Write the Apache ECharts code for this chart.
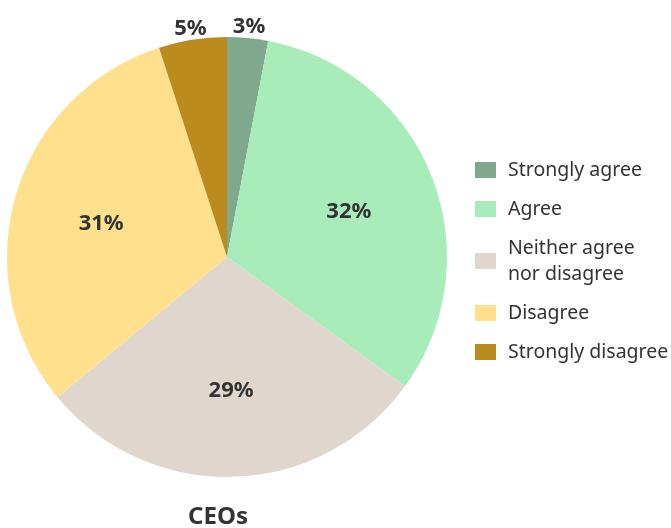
<!DOCTYPE html>
<html>
<head>
<meta charset="utf-8">
<script src="https://cdn.jsdelivr.net/npm/echarts@6/dist/echarts.min.js"></script>
<style>
  html, body { margin: 0; padding: 0; background: #fff; }
  #chart { width: 671px; height: 528px; }
</style>
</head>
<body>
<div id="chart"></div>
<script>
// 数据
const categories = ['Strongly agree', 'Agree', 'Neither agree\nnor disagree', 'Disagree', 'Strongly disagree'];
const values = [3, 32, 29, 31, 5];
const colors = ['#7fa88c', '#a8edb9', '#dfd6ce', '#fee08d', '#bb8b1e'];
const chartTitle = 'CEOs';

const FONT = 'Noto Sans';
const center = [227, 257];

let myChart = echarts.init(document.getElementById('chart'));

// 主饼图
const mainData = categories.map((c, i) => ({
  name: c,
  value: values[i],
  itemStyle: { color: colors[i] }
}));

// 标签层（透明），大扇区标签在内部，小扇区标签在外部
const innerLabelData = categories.map((c, i) => ({
  name: c,
  value: values[i],
  label: { show: values[i] >= 10 }
}));
const outerLabelData = categories.map((c, i) => ({
  name: c,
  value: values[i],
  label: { show: values[i] < 10 }
}));

const labelStyle = {
  position: 'inside',
  formatter: '{c}%',
  color: '#333',
  fontFamily: FONT,
  fontWeight: 'bold',
  fontSize: 22,
  offset: [0, 3]
};

const option = {
  animation: false,
  title: {
    text: chartTitle,
    left: 218,
    top: 505,
    padding: 0,
    textAlign: 'center',
    textStyle: { fontFamily: FONT, fontWeight: 'bold', fontSize: 24, color: '#333' }
  },
  legend: {
    orient: 'vertical',
    left: 475,
    top: 157,
    padding: 0,
    itemWidth: 21,
    itemHeight: 16,
    itemGap: 13,
    icon: 'rect',
    selectedMode: false,
    data: categories,
    textStyle: {
      fontFamily: FONT,
      fontSize: 19.5,
      lineHeight: 26,
      color: '#333',
      padding: [0, 0, 0, 7]
    }
  },
  series: [
    {
      type: 'pie',
      center: center,
      radius: [0, 220],
      startAngle: 90,
      clockwise: true,
      silent: true,
      label: { show: false },
      labelLine: { show: false },
      itemStyle: { borderWidth: 0 },
      data: mainData
    },
    {
      type: 'pie',
      center: center,
      radius: [0, 256],
      startAngle: 90,
      silent: true,
      itemStyle: { color: 'rgba(0,0,0,0)' },
      label: labelStyle,
      labelLine: { show: false },
      data: innerLabelData
    },
    {
      type: 'pie',
      center: center,
      radius: [196, 266],
      startAngle: 90,
      silent: true,
      itemStyle: { color: 'rgba(0,0,0,0)' },
      label: labelStyle,
      labelLine: { show: false },
      data: outerLabelData
    }
  ]
};

myChart.setOption(option);
</script>
</body>
</html>
